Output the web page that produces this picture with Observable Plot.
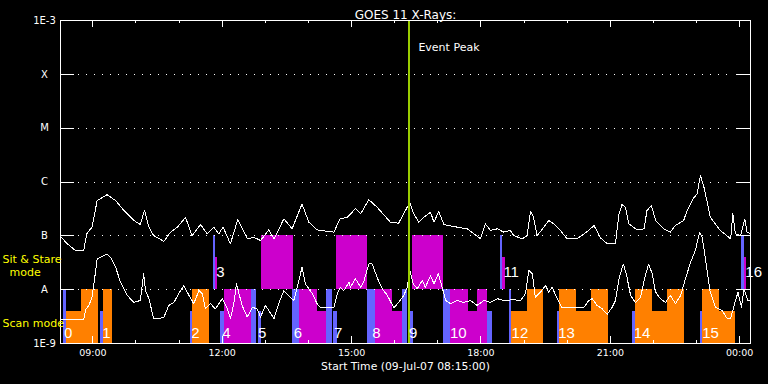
<!DOCTYPE html>
<html><head><meta charset="utf-8">
<script src="https://cdn.jsdelivr.net/npm/d3@7"></script>
<script src="https://cdn.jsdelivr.net/npm/@observablehq/plot@0.6"></script>
<style>html,body{margin:0;padding:0;background:#000;}</style>
</head><body><div id="chart"></div>
<script>
// ---------- data ----------
const DAY = Date.UTC(2007, 6, 9);           // 09-Jul-07
const startHour = 8.25, endHour = 24.25;    // 08:15 .. 00:15 next day
const title = "GOES 11 X-Rays:";
const startLabel = "Start Time (09-Jul-07 08:15:00)";
const eventPeakHour = 16.34;
const eventLabel = "Event Peak";

const levelValues = [1e-9, 1e-8, 1e-7, 1e-6, 1e-5, 1e-4, 1e-3];
const levelLabels = ["1E-9", "A", "B", "C", "M", "X", "1E-3"];

const hourTicks = [9,10,11,12,13,14,15,16,17,18,19,20,21,22,23,24];
const majorTickHours = [9, 12, 15, 18, 21, 24];
const majorTickLabels = ["09:00", "12:00", "15:00", "18:00", "21:00", "00:00"];

// GOES long channel (upper curve) [hour, W/m^2]
const longChannel = [
[8.25,9.7e-8],[8.41,7.1e-8],[8.60,5.3e-8],[8.79,5.3e-8],[8.83,8.2e-8],[8.86,1.09e-7],[8.98,1.45e-7],[9.10,4.5e-7],
[9.33,5.8e-7],[9.53,4.5e-7],[9.72,2.95e-7],[9.95,1.93e-7],[10.10,1.62e-7],[10.20,3.0e-7],[10.30,1.45e-7],[10.41,1.01e-7],
[10.65,7.9e-8],[10.80,1.17e-7],[10.96,1.45e-7],[11.15,2.2e-7],[11.30,1.01e-7],[11.50,1.62e-7],[11.65,1.09e-7],[11.80,1.45e-7],
[11.92,1.09e-7],[12.02,1.45e-7],[12.19,7.1e-8],[12.36,2.0e-7],[12.58,8.8e-8],[12.73,9.4e-8],[12.89,8.2e-8],[13.08,1.29e-7],
[13.20,8.8e-8],[13.43,2.07e-7],[13.62,1.35e-7],[13.85,3.9e-7],[14.01,1.79e-7],[14.20,1.29e-7],[14.59,1.17e-7],[14.73,2.07e-7],
[14.90,2.2e-7],[15.09,3.2e-7],[15.21,2.56e-7],[15.40,4.7e-7],[15.59,3.4e-7],[15.90,1.79e-7],[16.09,1.72e-7],[16.29,3.4e-7],
[16.35,4.2e-7],[16.44,2.56e-7],[16.56,1.79e-7],[16.67,2.2e-7],[16.83,2.75e-7],[16.91,1.79e-7],[17.02,2.86e-7],[17.14,1.62e-7],
[17.45,1.45e-7],[17.68,1.35e-7],[17.99,8.8e-8],[18.10,1.67e-7],[18.22,1.26e-7],[18.38,1.35e-7],[18.53,1.17e-7],[18.68,1.26e-7],
[18.76,1.01e-7],[18.96,8.8e-8],[19.07,1.01e-7],[19.15,2.86e-7],[19.22,2.2e-7],[19.30,1.01e-7],[19.46,1.45e-7],[19.57,1.93e-7],
[19.69,1.67e-7],[19.84,1.26e-7],[20.00,8.8e-8],[20.23,8.8e-8],[20.50,1.26e-7],[20.62,1.56e-7],[20.77,9.2e-8],[20.93,7.1e-8],
[21.12,7.3e-8],[21.20,2.56e-7],[21.27,3.8e-7],[21.35,3.4e-7],[21.43,1.67e-7],[21.62,1.29e-7],[21.78,1.35e-7],[21.85,2.95e-7],
[21.95,3.66e-7],[22.05,1.93e-7],[22.24,1.35e-7],[22.39,1.17e-7],[22.51,1.56e-7],[22.70,1.93e-7],[22.78,2.95e-7],[22.92,4.9e-7],
[23.01,6.0e-7],[23.09,1.32e-6],[23.18,7.5e-7],[23.32,2.2e-7],[23.55,1.26e-7],[23.79,8.8e-8],[23.84,2.56e-7],[23.90,1.09e-7],
[24.02,1.01e-7],[24.12,2.07e-7],[24.17,1.17e-7],[24.25,1.09e-7]
];

// GOES short channel (lower curve) [hour, W/m^2]
const shortChannel = [
[8.25,2.8e-9],[8.79,2.8e-9],[8.83,4.2e-9],[8.91,5.1e-9],[8.98,7.2e-9],[9.02,1.19e-8],[9.10,3.7e-8],[9.25,4.3e-8],
[9.33,4.6e-8],[9.41,4.0e-8],[9.53,2.6e-8],[9.64,1.38e-8],[9.80,7.8e-9],[9.95,5.8e-9],[10.10,6.3e-9],[10.18,1.97e-8],
[10.22,9.6e-9],[10.30,6.8e-9],[10.41,2.9e-9],[10.53,2.9e-9],[10.65,3.1e-9],[10.76,5.1e-9],[10.88,5.8e-9],[10.99,8.4e-9],
[11.11,1.19e-8],[11.23,7.8e-9],[11.34,5.5e-9],[11.46,9.6e-9],[11.54,8.4e-9],[11.61,4.4e-9],[11.73,5.5e-9],[11.84,4.4e-9],
[12.00,6.8e-9],[12.12,4.4e-9],[12.19,2.9e-9],[12.27,5.5e-9],[12.33,1.28e-8],[12.38,9.0e-9],[12.46,5.1e-9],[12.58,3.1e-9],
[12.70,4.7e-9],[12.81,4.4e-9],[12.89,3.1e-9],[13.00,5.1e-9],[13.08,4.1e-9],[13.20,2.9e-9],[13.31,5.5e-9],[13.43,9.6e-9],
[13.54,7.8e-9],[13.66,6.3e-9],[13.74,1.11e-8],[13.85,2.6e-8],[13.93,1.28e-8],[14.09,8.4e-9],[14.20,5.5e-9],[14.28,4.6e-9],
[14.59,4.6e-9],[14.67,8.4e-9],[14.74,1.11e-8],[14.82,9.6e-9],[14.94,1.38e-8],[14.97,1.11e-8],[15.09,1.59e-8],[15.21,1.11e-8],
[15.28,1.38e-8],[15.40,3.0e-8],[15.48,3.0e-8],[15.59,1.70e-8],[15.71,1.04e-8],[15.83,7.8e-9],[15.98,4.6e-9],[16.09,5.8e-9],
[16.21,7.8e-9],[16.29,1.11e-8],[16.35,2.27e-8],[16.43,1.28e-8],[16.52,1.04e-8],[16.64,1.48e-8],[16.71,1.11e-8],[16.83,1.83e-8],
[16.91,1.28e-8],[17.01,1.97e-8],[17.10,1.11e-8],[17.18,6.3e-9],[17.29,5.5e-9],[17.45,6.3e-9],[17.60,5.8e-9],[17.76,6.3e-9],
[17.91,5.1e-9],[18.07,6.3e-9],[18.22,5.8e-9],[18.38,6.8e-9],[18.53,6.3e-9],[18.76,6.5e-9],[18.92,6.3e-9],[19.03,8.4e-9],
[19.11,2.27e-8],[19.19,1.97e-8],[19.26,7.2e-9],[19.38,9.0e-9],[19.50,1.19e-8],[19.57,9.0e-9],[19.65,1.11e-8],[19.77,6.8e-9],
[19.88,4.6e-9],[20.38,4.6e-9],[20.50,6.3e-9],[20.58,6.8e-9],[20.69,5.1e-9],[20.81,4.4e-9],[20.93,3.5e-9],[21.04,4.7e-9],
[21.12,6.3e-9],[21.20,1.59e-8],[21.30,3.0e-8],[21.37,1.97e-8],[21.47,7.8e-9],[21.58,5.8e-9],[21.70,7.2e-9],[21.81,1.83e-8],
[21.89,3.0e-8],[21.97,1.97e-8],[22.05,9.0e-9],[22.16,6.8e-9],[22.28,5.8e-9],[22.39,7.8e-9],[22.51,5.5e-9],[22.63,7.8e-9],
[22.74,1.59e-8],[22.86,3.2e-8],[22.97,5.3e-8],[23.07,1.17e-7],[23.13,9.4e-8],[23.20,4.0e-8],[23.31,9.6e-9],[23.44,4.7e-9],
[23.59,4.1e-9],[23.71,2.9e-9],[23.79,2.9e-9],[23.87,5.1e-9],[23.96,9.0e-9],[24.04,4.7e-9],[24.10,1.04e-8],[24.19,6.3e-9],
[24.25,6.3e-9]
];

// observation segments: [startHour, endHour, kind, row, level]
const segments = [
[8.32,8.39,"point","scan","full"],[8.39,8.74,"scan","scan","half"],[8.74,9.12,"scan","scan","full"],
[9.18,9.25,"point","scan","half"],[9.25,9.46,"scan","scan","full"],
[11.26,11.32,"point","scan","half"],[11.32,11.70,"scan","scan","full"],
[11.79,11.84,"point","sit","full"],[11.84,11.89,"stare","sit","half"],
[11.96,12.05,"point","scan","half"],[12.05,12.68,"stare","scan","full"],[12.68,12.79,"point","scan","full"],
[12.83,12.91,"point","scan","half"],[12.91,13.65,"stare","sit","full"],
[13.64,13.79,"point","scan","full"],[13.79,14.22,"stare","scan","full"],[14.22,14.41,"stare","scan","half"],[14.41,14.55,"point","scan","full"],
[14.59,14.67,"point","scan","half"],[14.66,15.38,"stare","sit","full"],
[15.36,15.55,"point","scan","full"],[15.55,15.96,"stare","scan","full"],[15.96,16.17,"stare","scan","half"],[16.17,16.30,"point","scan","full"],
[16.37,16.43,"point","scan","half"],[16.41,17.14,"stare","sit","full"],
[17.14,17.29,"point","scan","full"],[17.29,17.70,"stare","scan","full"],[17.70,17.91,"stare","scan","half"],[17.91,18.16,"stare","scan","full"],[18.16,18.27,"point","scan","half"],
[18.46,18.51,"point","sit","full"],[18.51,18.57,"stare","sit","half"],
[18.65,18.71,"point","scan","full"],[18.71,19.09,"scan","scan","half"],[19.09,19.44,"scan","scan","full"],
[19.77,19.82,"point","scan","half"],[19.82,20.22,"scan","scan","full"],[20.22,20.56,"scan","scan","half"],[20.56,20.95,"scan","scan","full"],
[21.52,21.58,"point","scan","half"],[21.58,21.97,"scan","scan","full"],[21.97,22.32,"scan","scan","half"],[22.32,22.71,"scan","scan","full"],
[23.09,23.14,"point","scan","half"],[23.14,23.52,"scan","scan","full"],[23.52,23.90,"scan","scan","half"],
[24.05,24.10,"point","sit","full"],[24.10,24.16,"stare","sit","half"]
];

const obsNumbers   = ["0","1","2","3","4","5","6","7","8","9","10","11","12","13","14","15","16"];
const obsLabelHour = [8.33,9.22,11.28,11.86,12.00,12.83,13.66,14.59,15.48,16.33,17.28,18.52,18.71,19.79,21.54,23.13,24.13];
const obsLabelRow  = ["scan","scan","scan","sit","scan","scan","scan","scan","scan","scan","scan","sit","scan","scan","scan","scan","sit"];

const modeKinds  = ["point", "scan", "stare"];
const modeColors = ["#6464ff", "#ff8000", "#cc00cc"];

// ---------- build ----------
const toDate = h => new Date(DAY + h * 3600e3);
const rowBounds = {scan: {base: 1e-9, full: 1e-8, half: 4e-9}, sit: {base: 1e-8, full: 1e-7, half: 4e-8}};
const rects = segments.map(([s, e, kind, row, lvl]) => ({
  x1: toDate(s), x2: toDate(e), y1: rowBounds[row].base, y2: rowBounds[row][lvl], kind
}));
const obsLabels = obsNumbers.map((n, i) => ({n, t: toDate(obsLabelHour[i]), row: obsLabelRow[i]}));
const inner = levelValues.slice(1, -1);
const minorHours = hourTicks.filter(h => !majorTickHours.includes(h));

const chart = Plot.plot({
  width: 768, height: 384,
  marginLeft: 60, marginRight: 18, marginTop: 20, marginBottom: 41,
  style: {background: "black", color: "white", fontFamily: "'DejaVu Sans', sans-serif", fontSize: "10px"},
  x: {type: "utc", domain: [toDate(startHour), toDate(endHour)], axis: null},
  y: {type: "log", domain: [levelValues[0], levelValues[levelValues.length - 1]], axis: null},
  color: {type: "ordinal", domain: modeKinds, range: modeColors},
  marks: [
    Plot.rect(rects, {x1: "x1", x2: "x2", y1: "y1", y2: "y2", fill: "kind", shapeRendering: "crispEdges"}),
    Plot.ruleY(inner, {stroke: "white", strokeDasharray: "1,7", insetLeft: 18, insetRight: 16, shapeRendering: "crispEdges"}),
    Plot.ruleY(inner, {stroke: "white", insetRight: 676, shapeRendering: "crispEdges"}),
    Plot.ruleY(inner, {stroke: "white", insetLeft: 676, shapeRendering: "crispEdges"}),
    Plot.line(longChannel, {x: d => toDate(d[0]), y: d => d[1], stroke: "white", strokeWidth: 1, shapeRendering: "crispEdges"}),
    Plot.line(shortChannel, {x: d => toDate(d[0]), y: d => d[1], stroke: "white", strokeWidth: 1, shapeRendering: "crispEdges"}),
    Plot.ruleX([eventPeakHour], {x: toDate, stroke: "#9acd00", strokeWidth: 2, shapeRendering: "crispEdges"}),
    Plot.ruleX(minorHours, {x: toDate, stroke: "white", insetBottom: 320, shapeRendering: "crispEdges"}),
    Plot.ruleX(majorTickHours, {x: toDate, stroke: "white", insetBottom: 316, shapeRendering: "crispEdges"}),
    Plot.ruleX(minorHours, {x: toDate, stroke: "white", insetTop: 320, shapeRendering: "crispEdges"}),
    Plot.ruleX(majorTickHours, {x: toDate, stroke: "white", insetTop: 316, shapeRendering: "crispEdges"}),
    Plot.frame({stroke: "white", shapeRendering: "crispEdges"}),
    // texts
    Plot.text([title], {text: d => d, frameAnchor: "top", dy: -10, fontSize: 12}),
    Plot.text([startLabel], {text: d => d, frameAnchor: "bottom", dy: 26, fontSize: 10.8}),
    Plot.text(majorTickHours, {x: toDate, text: (d, i) => majorTickLabels[i], frameAnchor: "bottom", dy: 12, fontSize: 9.5}),
    Plot.text(levelValues, {y: d => d, text: (d, i) => levelLabels[i], frameAnchor: "left", dx: -16, textAnchor: "middle", fontSize: 10}),
    Plot.text([eventLabel], {x: () => toDate(eventPeakHour), text: d => d, frameAnchor: "top", dy: 23, dx: 9, textAnchor: "start", fontSize: 11}),
    Plot.text(["Sit & Stare\n\u00a0\u00a0mode"], {y: () => rowBounds.sit.base, text: d => d, frameAnchor: "left", dx: -58, dy: -24, textAnchor: "start", lineHeight: 1.16, fill: "#ffff00", fontSize: 11}),
    Plot.text(["Scan mode"], {y: () => rowBounds.scan.base, text: d => d, frameAnchor: "left", dx: -58, dy: -20, textAnchor: "start", fill: "#ffff00", fontSize: 11}),
    Plot.text(obsLabels.filter(d => d.row === "scan"), {x: "t", y: () => rowBounds.scan.base, text: "n", dy: -10, textAnchor: "start", fontSize: 15, fontFamily: "'Liberation Sans', sans-serif"}),
    Plot.text(obsLabels.filter(d => d.row === "sit"), {x: "t", y: () => rowBounds.sit.base, text: "n", dy: -17, textAnchor: "start", fontSize: 15, fontFamily: "'Liberation Sans', sans-serif"})
  ]
});
document.getElementById("chart").appendChild(chart);
</script>
</body></html>
